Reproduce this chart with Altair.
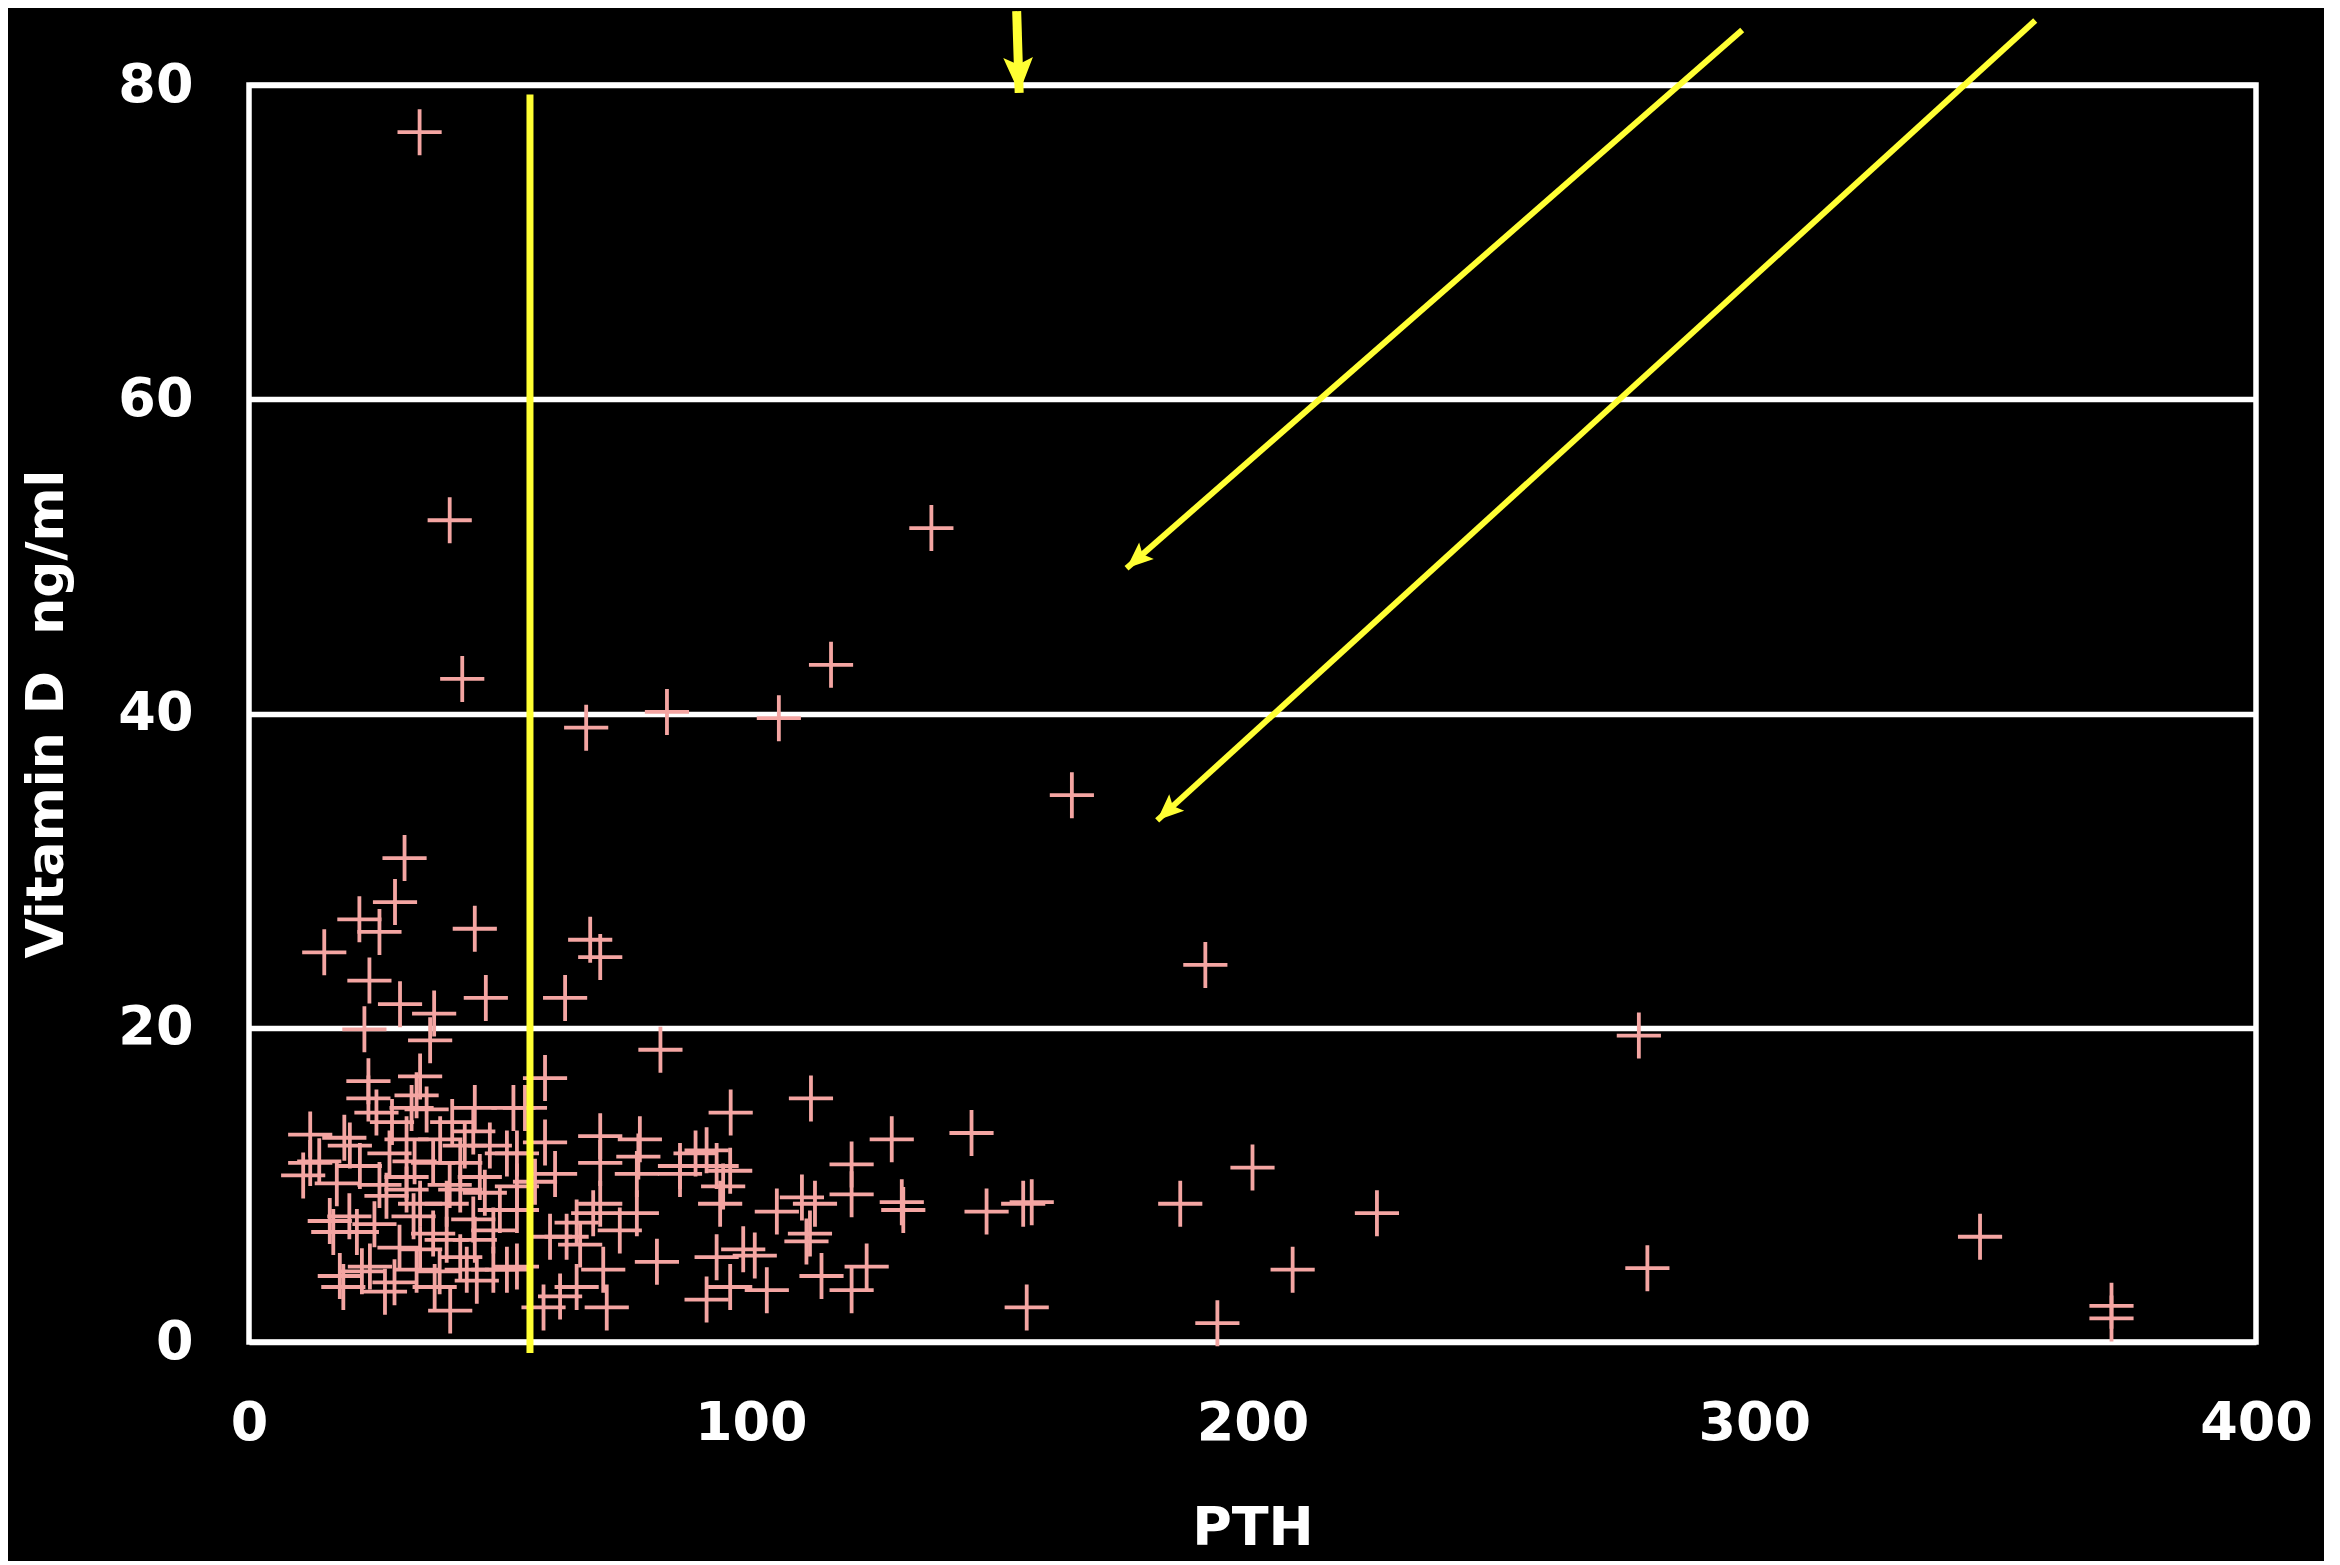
import math
import altair as alt
import pandas as pd

# ---------------- data ----------------
pth = [
    34, 40, 42.5, 136, 116, 83.3, 67.2, 105.6, 164, 190.6, 277, 345, 371.2, 371.2,
    278.7, 224.8, 208, 200, 185.6, 193, 155, 154.3, 156, 147, 144, 128.1, 130.1,
    130.4, 120.1, 120.1, 112, 82,
    31, 29.1, 22, 26, 15, 45, 68, 70, 24, 47.2, 63, 30.1, 36.9, 23, 36.1, 59,
    105.2, 110.2, 112.8, 111.8, 111.1, 114.1, 123.1, 120.1, 103.2, 100.8,
    96, 91.2, 85.9, 93.2, 95.9, 94.5, 93.9, 93.2, 98.5, 95.9, 91.2, 81.3, 85.9, 89,
    70, 77.9, 70, 77.6, 61, 59, 55, 53.4, 77.3, 68.6, 70, 73.9, 77.3, 60, 63.3,
    65.3, 70.6, 71.3, 65.3, 62, 58.7, 53.4, 53.4, 53.4, 66, 57,
    23.8, 23.8, 25.4, 34.1, 33.4, 32.4, 35.4, 45, 44.7, 52.7, 12.2, 12.2, 10.8,
    20.1, 22.1, 31.4, 38.1, 36.7, 42.1, 51.4, 17.5, 16.1, 16.8, 21.5, 18.1, 18.8,
    27.1, 24.1, 27.4, 31.4, 34.1, 32.8, 36.7, 39.4, 34.1, 33.4, 40.1, 43.4, 42.1,
    45.4, 48.7, 51.4, 44.7, 48.7, 50, 42.1, 46, 39.4, 31.4, 28, 26, 30, 38, 29,
    22.5, 20, 25, 33, 40, 45, 47, 37, 43, 28.5, 40.5, 48, 14, 19,
]
vitd = [
    77.0, 52.3, 42.2, 51.8, 43.1, 40.1, 39.1, 39.7, 34.8, 24.0, 19.5, 6.7, 1.5, 2.3,
    4.7, 8.2, 4.6, 11.1, 8.8, 1.2, 2.2, 8.8, 8.9, 8.3, 13.3, 12.9, 8.9,
    8.4, 11.3, 9.4, 15.5, 18.6,
    30.8, 28.0, 26.9, 26.1, 24.8, 26.3, 25.6, 24.5, 23.0, 21.9, 21.9, 21.5, 20.9, 19.9, 19.2, 16.8,
    8.3, 9.2, 8.8, 6.9, 6.4, 4.2, 4.8, 3.3, 3.3, 5.5,
    14.6, 12.2, 11.2, 11.2, 10.9, 9.9, 8.8, 5.4, 5.9, 3.5, 2.7, 5.1, 10.7, 12.0,
    13.1, 12.9, 11.4, 11.8, 10.7, 12.7, 14.9, 12.0, 10.7, 8.2, 8.8, 7.1, 8.2, 6.7, 6.7,
    7.6, 4.6, 2.2, 3.5, 2.9, 2.2, 4.8, 8.4, 9.9, 6.2, 10.2,
    16.6, 15.5, 14.6, 16.9, 15.7, 14.9, 14.8, 14.9, 13.4, 14.9, 13.2, 11.4, 10.6,
    12.5, 11.2, 12.9, 12.9, 11.4, 11.4, 12.0, 10.1, 7.7, 7.0, 7.0, 4.2, 3.5,
    3.2, 4.8, 9.3, 9.7, 8.8, 8.0, 6.9, 6.5, 5.9, 4.6, 2.0, 4.6, 5.4,
    3.9, 4.6, 4.6, 7.8, 7.1, 8.4, 9.7, 10.5, 8.8, 10.5, 12.0, 10.0, 6.0, 4.5, 3.8,
    4.5, 8.0, 7.5, 11.5, 10.0, 6.5, 9.5, 3.5, 12.5, 14.0, 14.0, 12.5, 11.5, 13.0,
]

x_ticks = [0, 100, 200, 300, 400]
y_ticks = [0, 20, 40, 60, 80]

# yellow reference line (PTH threshold)
threshold_pth = [56]
threshold_top = [79.4]
threshold_bottom = [-0.7]

# yellow annotation arrows (data units): the short one, then the two long ones
short_arrow_start = (153.0, 84.7)
short_arrow_end = (153.5, 79.5)
long_arrow_x_start = [297.6, 356.0]
long_arrow_y_start = [83.5, 84.1]
long_arrow_x_end = [174.9, 181.0]
long_arrow_y_end = [49.25, 33.2]

# ---------------- layout / style ----------------
W, H = 2007, 1257
X_DOM = [0, 400]
Y_DOM = [0, 80]
PINK = "#F4A5A2"
YELLOW = "#FFFF33"
FONT = "DejaVu Sans"
CROSS = "M-0.96,0H0.96M0,-1V1"
HEAD = "M0,0L-0.42,1L0,0.8L0.42,1Z"


def px_angle(x0, y0, x1, y1):
    dx = (x1 - x0) * W / (X_DOM[1] - X_DOM[0])
    dy = -(y1 - y0) * H / (Y_DOM[1] - Y_DOM[0])
    return math.degrees(math.atan2(dx, -dy)) % 360


xs = alt.Scale(domain=X_DOM, nice=False, zero=False)
ys = alt.Scale(domain=Y_DOM, nice=False, zero=False)

x_axis = alt.Axis(
    values=x_ticks, title="PTH", grid=False, domain=False, ticks=False, tickSize=0,
    labelFont=FONT, labelFontSize=54, labelFontWeight="bold", labelColor="white",
    labelPadding=54, labelFlush=False, labelOverlap=False,
    titleFont=FONT, titleFontSize=54, titleFontWeight="bold", titleColor="white",
    titlePadding=51)
y_axis = alt.Axis(
    values=y_ticks, title="Vitamin D\u00a0 ng/ml", grid=True, gridColor="white",
    gridWidth=5.5, gridOpacity=1, domain=False, ticks=False, tickSize=0,
    labelFont=FONT, labelFontSize=54, labelFontWeight="bold", labelColor="white",
    labelPadding=56, labelFlush=False, labelOverlap=False,
    titleFont=FONT, titleFontSize=52, titleFontWeight="bold", titleColor="white",
    titlePadding=44)


def X(field):
    return alt.X(field, type="quantitative", scale=xs, axis=x_axis, title="PTH")


def Y(field):
    return alt.Y(field, type="quantitative", scale=ys, axis=y_axis,
                 title="Vitamin D\u00a0 ng/ml")


pts = pd.DataFrame({"pth": pth, "vitd": vitd})

points = alt.Chart(pts).mark_point(
    shape=CROSS, filled=False, size=2116, strokeWidth=3.8, color=PINK, opacity=1
).encode(x=X("pth"), y=Y("vitd"))

thr = pd.DataFrame({"x": threshold_pth, "y": threshold_top, "y2": threshold_bottom})
threshold = alt.Chart(thr).mark_rule(color=YELLOW, strokeWidth=7).encode(
    x=X("x"), y=Y("y"), y2="y2:Q",
)

long_df = pd.DataFrame({
    "x": long_arrow_x_start, "y": long_arrow_y_start,
    "x2": long_arrow_x_end, "y2": long_arrow_y_end,
})
long_df["angle"] = [px_angle(a, b, c, d) for a, b, c, d in zip(
    long_arrow_x_start, long_arrow_y_start, long_arrow_x_end, long_arrow_y_end)]

long_shafts = alt.Chart(long_df).mark_rule(color=YELLOW, strokeWidth=6).encode(
    x=X("x"), y=Y("y"), x2="x2:Q", y2="y2:Q",
)
long_heads = alt.Chart(long_df).mark_point(
    shape=HEAD, filled=True, size=2800, color=YELLOW, opacity=1, strokeWidth=0
).encode(
    x=X("x2"), y=Y("y2"), angle=alt.Angle("angle:Q", scale=None),
)

short_df = pd.DataFrame({
    "x": [short_arrow_start[0]], "y": [short_arrow_start[1]],
    "x2": [short_arrow_end[0]], "y2": [short_arrow_end[1]],
})
short_df["angle"] = [px_angle(*short_arrow_start, *short_arrow_end)]
short_shaft = alt.Chart(short_df).mark_rule(color=YELLOW, strokeWidth=9).encode(
    x=X("x"), y=Y("y"), x2="x2:Q", y2="y2:Q",
)
short_head = alt.Chart(short_df).mark_point(
    shape=HEAD, filled=True, size=5000, color=YELLOW, opacity=1, strokeWidth=0
).encode(
    x=X("x2"), y=Y("y2"), angle=alt.Angle("angle:Q", scale=None),
)

chart = alt.layer(
    points, threshold, long_shafts, long_heads, short_shaft, short_head
).properties(
    width=W, height=H,
    autosize=alt.AutoSizeParams(type="none"),
    padding={"left": 241, "top": 77, "right": 68, "bottom": 219},
).configure(
    background="black"
).configure_view(
    stroke="white", strokeWidth=5.5
)

chart.save("out.html", embed_options={"renderer": "svg", "actions": False})
